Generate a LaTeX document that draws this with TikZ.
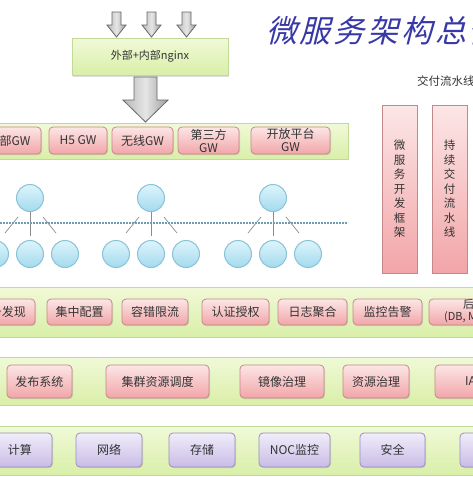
\documentclass[tikz,border=0pt]{standalone}
\usepackage{fontspec}
\setmainfont{Noto Sans CJK SC}
\newfontfamily\titlefont[FakeSlant=0.25,LetterSpace=9]{Noto Sans CJK SC}
\usetikzlibrary{shadows,calc}
\definecolor{txt}{HTML}{333333}
\definecolor{titleblue}{HTML}{3838A8}
\definecolor{bandTop}{HTML}{F1F9D8}
\definecolor{bandBot}{HTML}{D9EFA8}
\definecolor{bandLine}{HTML}{C2DA98}
\definecolor{pinkTop}{HTML}{FCE6E6}
\definecolor{pinkBot}{HTML}{F2A5A8}
\definecolor{pinkLine}{HTML}{C58888}
\definecolor{purTop}{HTML}{F1EDFA}
\definecolor{purBot}{HTML}{C9BCE6}
\definecolor{purLine}{HTML}{9A8CC0}
\definecolor{cirTop}{HTML}{DDF4FC}
\definecolor{cirBot}{HTML}{A4DAEE}
\definecolor{cirLine}{HTML}{8AC2D8}
\definecolor{dotc}{HTML}{6E9CB4}
\newcommand\bx[7]{\node[#6, minimum width={(#4)-(#2)}, minimum height={(#5)-(#3)}] (#1) at ({((#2)+(#4))/2},{((#3)+(#5))/2}) {#7};}
\begin{document}
\begin{tikzpicture}[x=1pt,y=-1pt,
  every node/.style={text=txt, inner sep=0pt},
  band/.style={draw=bandLine, line width=0.8pt, top color=bandTop, bottom color=bandBot},
  pinkbox/.style={draw=pinkLine, line width=0.8pt, rounded corners=4pt, top color=pinkTop, bottom color=pinkBot, align=center,
     font=\fontsize{12}{13}\selectfont, drop shadow={shadow xshift=1pt, shadow yshift=-1.2pt, opacity=0.25}},
  purbox/.style={draw=purLine, line width=0.8pt, rounded corners=4pt, top color=purTop, bottom color=purBot, align=center,
     font=\fontsize{12}{13}\selectfont, drop shadow={shadow xshift=1pt, shadow yshift=-1.2pt, opacity=0.25}},
  nginxbox/.style={draw=bandLine, line width=0.8pt, top color=bandTop, bottom color=bandBot,
     font=\fontsize{11}{12}\selectfont, drop shadow={shadow xshift=1.2pt, shadow yshift=-1.5pt, opacity=0.25}},
  pillar/.style={draw=pinkLine, line width=0.8pt, top color=pinkTop, bottom color=pinkBot, align=center,
     font=\fontsize{11.5}{14.5}\selectfont, drop shadow={shadow xshift=1pt, shadow yshift=-1.2pt, opacity=0.25}},
  circ/.style={circle, draw=cirLine, line width=1pt, top color=cirTop, bottom color=cirBot, minimum size=27pt},
  cline/.style={draw=black!45, line width=0.7pt},
  dotline/.style={draw=dotc, line width=2pt, dash pattern=on 1.6pt off 1.4pt},
  garrow/.style={draw=black!60, line width=0.8pt, left color=black!28, right color=black!38, middle color=black!10}
]
\useasboundingbox (0,0) rectangle (473,477);
\fill[white] (0,0) rectangle (473,477);
\begin{scope}
\clip (0,0) rectangle (473,477);

% title
\node[anchor=west, text=titleblue, font=\titlefont\fontsize{31}{31}\selectfont] (title) at (266,31) {微服务架构总体};
\node[anchor=west, font=\fontsize{11.5}{13}\selectfont] (pipe) at (417,81) {交付流水线};

% small arrows
\foreach \c in {116.5,151.5,186.5}{
  \path[garrow] (\c-4.5,12) -- (\c+4.5,12) -- (\c+4.5,25) -- (\c+9.5,25) -- (\c,37) -- (\c-9.5,25) -- (\c-4.5,25) -- cycle;
}
% nginx
\bx{nginx}{72}{38}{228}{75}{nginxbox}{外部+内部nginx}
% big arrow
\path[garrow] (134,77) -- (157,77) -- (157,100) -- (168,100) -- (145.5,122) -- (123,100) -- (134,100) -- cycle;

% GW band
\bx{gwband}{-5}{123}{348}{159}{band}{}
\bx{gw1}{-23}{127}{41}{154}{pinkbox}{内部GW}
\bx{gw2}{49}{127}{107}{154}{pinkbox}{H5 GW}
\bx{gw3}{112}{127}{173}{154}{pinkbox}{无线GW}
\bx{gw4}{178}{127}{239}{154}{pinkbox}{第三方\\GW}
\bx{gw5}{251}{127}{330}{154}{pinkbox}{开放平台\\GW}

% pillars
\bx{p1}{382}{105}{417}{273}{pillar}{微\\服\\务\\开\\发\\框\\架}
\bx{p2}{432}{105}{467}{273}{pillar}{持\\续\\交\\付\\流\\水\\线}

% circles
\foreach \i/\x in {1/30,2/151,3/273}{
  \node[circ] (t\i) at (\x,198) {};
  \node[circ] (b\i a) at (\x-35,254) {};
  \node[circ] (b\i b) at (\x,254) {};
  \node[circ] (b\i c) at (\x+35,254) {};
  \draw[cline] ([shift={(-12,19)}]t\i.center) -- ([shift={(-25,35)}]t\i.center);
  \draw[cline] (t\i.south) -- ([yshift=4pt]b\i b.north);
  \draw[cline] ([shift={(13,19)}]t\i.center) -- ([shift={(26,35)}]t\i.center);
}
\coordinate (dl) at (0,223);
\coordinate (dr) at (348,223);
\draw[dotline] (dl) -- (dr);

% governance band
\bx{gband}{-5}{287}{480}{337}{band}{}
\bx{g1}{-31}{299}{35}{325}{pinkbox}{服务发现}
\bx{g2}{47}{299}{112}{325}{pinkbox}{集中配置}
\bx{g3}{122}{299}{188}{325}{pinkbox}{容错限流}
\bx{g4}{202}{299}{269}{325}{pinkbox}{认证授权}
\bx{g5}{278}{299}{347}{325}{pinkbox}{日志聚合}
\bx{g6}{353}{299}{422}{325}{pinkbox}{监控告警}
\bx{g7}{429}{299}{540}{325}{pinkbox}{}
\node[anchor=north west, align=center, font=\fontsize{11}{12}\selectfont] (g7t) at (444,299.5) {后台服务\\(DB, MQ, Cache)};

% deploy band
\bx{dband}{-5}{357}{480}{405}{band}{}
\bx{d1}{7}{365}{72}{398}{pinkbox}{发布系统}
\bx{d2}{106}{365}{209}{398}{pinkbox}{集群资源调度}
\bx{d3}{240}{365}{324}{398}{pinkbox}{镜像治理}
\bx{d4}{343}{365}{409}{398}{pinkbox}{资源治理}
\bx{d5}{435}{365}{540}{398}{pinkbox}{}
\node[anchor=west, font=\fontsize{12}{13}\selectfont] (d5t) at (465,381.5) {IAAS};

% infra band
\bx{iband}{-5}{426}{480}{475}{band}{}
\bx{i1}{-12}{433}{52}{467}{purbox}{计算}
\bx{i2}{76}{433}{142}{467}{purbox}{网络}
\bx{i3}{169}{433}{235}{467}{purbox}{存储}
\bx{i4}{259}{433}{330}{467}{purbox}{NOC监控}
\bx{i5}{360}{433}{425}{467}{purbox}{安全}
\bx{i6}{460}{433}{540}{467}{purbox}{}
\end{scope}
\end{tikzpicture}
\end{document}
